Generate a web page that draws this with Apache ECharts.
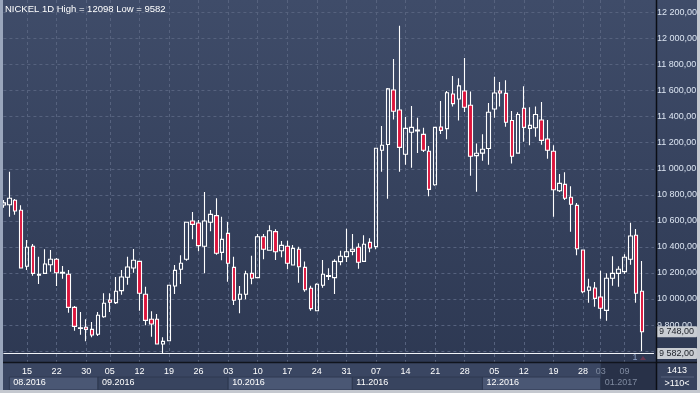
<!DOCTYPE html>
<html><head><meta charset="utf-8">
<script src="https://cdn.jsdelivr.net/npm/echarts@6/dist/echarts.min.js"></script>
<style>html,body{margin:0;padding:0;background:#2e3953;}#c{width:700px;height:393px;}</style>
</head><body><div id="c"></div>
<script>
const dates = [
'2016-08-09','2016-08-10','2016-08-11','2016-08-12','2016-08-15','2016-08-16','2016-08-17','2016-08-18','2016-08-19','2016-08-22','2016-08-23','2016-08-24','2016-08-25','2016-08-26','2016-08-30','2016-08-31',
'2016-09-01','2016-09-02','2016-09-05','2016-09-06','2016-09-07','2016-09-08','2016-09-09','2016-09-12','2016-09-13','2016-09-14','2016-09-15','2016-09-16','2016-09-19','2016-09-20','2016-09-21','2016-09-22','2016-09-23','2016-09-26','2016-09-27','2016-09-28','2016-09-29','2016-09-30',
'2016-10-03','2016-10-04','2016-10-05','2016-10-06','2016-10-07','2016-10-10','2016-10-11','2016-10-12','2016-10-13','2016-10-14','2016-10-17','2016-10-18','2016-10-19','2016-10-20','2016-10-21','2016-10-24','2016-10-25','2016-10-26','2016-10-27','2016-10-28','2016-10-31',
'2016-11-01','2016-11-02','2016-11-03','2016-11-04','2016-11-07','2016-11-08','2016-11-09','2016-11-10','2016-11-11','2016-11-14','2016-11-15','2016-11-16','2016-11-17','2016-11-18','2016-11-21','2016-11-22','2016-11-23','2016-11-24','2016-11-25','2016-11-28','2016-11-29','2016-11-30',
'2016-12-01','2016-12-02','2016-12-05','2016-12-06','2016-12-07','2016-12-08','2016-12-09','2016-12-12','2016-12-13','2016-12-14','2016-12-15','2016-12-16','2016-12-19','2016-12-20','2016-12-21','2016-12-22','2016-12-23','2016-12-28','2016-12-29','2016-12-30',
'2017-01-03','2017-01-04','2017-01-05','2017-01-06','2017-01-09','2017-01-10','2017-01-11','2017-01-12'];
const opens = [
10722,10724,10758,10681,10251,10405,10183,10197,10263,10305,10198,10190,9936,9774,9783,9767,
9729,9864,9992,9972,10064,10167,10238,10289,10036,9844,9844,9655,9680,10100,10228,10305,10599,10584,10405,10589,10640,10358,
10504,10243,9998,10036,10197,10164,10478,10374,10517,10371,10405,10261,10382,10243,10082,9910,10105,10174,10164,10287,10325,
10366,10397,10289,10435,10402,11142,11186,11605,11451,11111,11280,11290,11264,11134,10877,11320,11308,11574,11536,11597,11487,11101,
11120,11155,11459,11597,11579,11371,11120,11464,11310,11315,11374,11228,11134,10831,10880,10781,10719,10376,10067,10084,
10015,9913,10159,10197,10210,10305,10489,10059];
const closes = [
10738,10773,10676,10238,10397,10197,10190,10269,10305,10202,10205,9936,9790,9779,9767,9724,
9875,9967,9975,10059,10169,10246,10297,10044,9836,9808,9655,9675,10105,10220,10274,10589,10573,10410,10599,10650,10351,10458,
10274,9990,10036,10194,10159,10478,10382,10524,10363,10412,10274,10389,10248,10071,9926,10113,10190,10180,10289,10328,10363,
10382,10282,10420,10392,11157,11180,11613,11441,11164,11310,11318,11298,11142,10842,11318,11295,11584,11500,11636,11472,11096,11119,
11150,11434,11582,11582,11357,11096,11417,11318,11333,11417,11218,11142,10839,10888,10773,10727,10386,10056,10092,10005,
9929,10159,10197,10228,10320,10484,10044,9748];
const lows = [
10700,10632,10647,10235,10223,10179,10115,10195,10210,10100,10156,9895,9757,9726,9675,9706,
9716,9856,9900,9962,10033,10110,10202,9910,9798,9711,9650,9582,9678,10038,10115,10294,10458,10366,10197,10520,10340,10297,
10133,9954,9890,9998,10113,10160,10305,10372,10299,10320,10228,10259,10125,10056,9910,9908,10087,10146,10038,10259,10284,
10335,10233,10287,10358,10382,10977,10770,11378,10977,11031,11008,11120,11129,10788,10870,11267,11226,11477,11371,11436,10946,10823,
11062,11031,11392,11477,11323,11040,11118,11207,11180,11246,11184,11077,10632,10822,10760,10517,10335,10044,9972,9941,
9849,9833,10102,10094,10192,10263,9972,9601];
const highs = [
10760,10977,10768,10719,10453,10422,10325,10382,10376,10315,10253,10223,9946,9900,9844,9823,
9900,10044,10044,10169,10223,10325,10384,10294,10094,9906,9885,9706,10108,10261,10335,10592,10668,10607,10822,10683,10773,10632,
10591,10325,10100,10217,10333,10499,10499,10566,10535,10445,10448,10415,10402,10287,10102,10120,10299,10236,10305,10371,10540,
10499,10428,10489,10466,11160,11328,11620,11842,12098,11397,11482,11392,11315,11175,11322,11521,11597,11712,11694,11850,11594,11194,
11264,11504,11707,11666,11679,11443,11433,11633,11472,11477,11512,11374,11180,10960,10973,10865,10737,10378,10156,10131,
10217,10197,10328,10251,10343,10586,10537,10292];
const weekLabelDates = ['2016-08-15','2016-08-22','2016-08-30','2016-09-05','2016-09-12','2016-09-19','2016-09-26','2016-10-03','2016-10-10','2016-10-17','2016-10-24','2016-10-31','2016-11-07','2016-11-14','2016-11-21','2016-11-28','2016-12-05','2016-12-12','2016-12-19','2016-12-28','2017-01-03','2017-01-09'];
const monthNames = ['08.2016','09.2016','10.2016','11.2016','12.2016','01.2017'];
const monthStarts = ['2016-08-10','2016-09-01','2016-10-03','2016-11-01','2016-12-01','2017-01-03'];
const instrument = 'NICKEL 1D';
const footerTexts = ['1413', '>110<'];

const highVal = Math.max(...highs);
const lowVal = Math.min(...lows);
const lastClose = closes[closes.length - 1];
const weekSet = new Set(weekLabelDates);
const xData = dates.concat(['', '']);
const fmt = v => Math.round(v).toString().replace(/\B(?=(\d{3})+(?!\d))/g, ' ') + ',00';
const isJan = v => v.startsWith('2017');

const chart = echarts.init(document.getElementById('c'), null, {renderer: 'canvas'});
const FONT = 'Liberation Sans';
chart.setOption({
  animation: false,
  backgroundColor: 'transparent',
  textStyle: {fontFamily: FONT},
  title: {text: instrument + ' High = ' + highVal + ' Low = ' + lowVal, left: 5, top: 4, padding: 0,
    textStyle: {color: '#ffffff', fontSize: 9.5, fontWeight: 'normal', fontFamily: FONT}},
  grid: {left: 3.4, right: 43.6, top: 0, bottom: 31, containLabel: false},
  xAxis: {
    type: 'category', data: xData, boundaryGap: false,
    axisLine: {show: false}, axisTick: {show: false},
    axisLabel: {
      interval: (i, v) => weekSet.has(v), formatter: v => v.slice(8),
      color: v => isJan(v) ? '#7f8aa0' : '#ffffff', fontSize: 9, margin: 5, fontFamily: FONT
    },
    splitLine: {show: true, interval: (i, v) => weekSet.has(v), lineStyle: {color: '#56627e', type: [3, 3], width: 1}}
  },
  yAxis: {
    type: 'value', position: 'right', min: 9516.3, max: 12295.6, splitNumber: 14, scale: true,
    axisLine: {show: false}, axisTick: {show: false},
    axisLabel: {formatter: fmt, color: '#dce5f2', fontSize: 9, margin: 3, showMinLabel: false, showMaxLabel: false, fontFamily: FONT},
    splitLine: {show: true, showMinLine: false, showMaxLine: false, lineStyle: {color: '#56627e', type: [3, 3], width: 1}}
  },
  series: [{
    type: 'candlestick', name: 'NICKEL',
    data: dates.map((d, i) => [opens[i], closes[i], lows[i], highs[i]]),
    barWidth: 4,
    itemStyle: {color: 'rgba(0,0,0,0)', color0: '#dc143c', borderColor: '#ffffff', borderColor0: '#ffffff', borderWidth: 1.1},
    markLine: {
      silent: true, symbol: ['none', 'none'], animation: false,
      label: {show: true, position: 'end', distance: 2, formatter: p => fmt(p.value),
        backgroundColor: '#c9cdd3', color: '#1b1f27', fontSize: 9, padding: [1, 3, 1, 3], borderRadius: 1, fontFamily: FONT},
      data: [
        {yAxis: lowVal, lineStyle: {color: '#f2f4f8', width: 1.2, type: 'solid'}},
        {yAxis: lastClose, lineStyle: {color: 'rgba(0,0,0,0)', width: 0}}
      ]
    }
  }]
});

const px = d => chart.convertToPixel({xAxisIndex: 0}, d);
const py = v => chart.convertToPixel({yAxisIndex: 0}, v);
const g = [];
g.push({type: 'rect', z: -20, shape: {x: 0, y: 0, width: 700, height: 393},
  style: {fill: new echarts.graphic.LinearGradient(0, 0, 0, 1, [{offset: 0, color: '#3f4c69'}, {offset: 1, color: '#2c3751'}])}});
g.push({type: 'rect', z: -15, shape: {x: 0, y: 363, width: 700, height: 27}, style: {fill: '#3a4662'}});
const rightEdge = 656.4;
monthStarts.forEach((d, k) => {
  const x0 = px(d);
  const x1 = k + 1 < monthStarts.length ? px(monthStarts[k + 1]) : rightEdge;
  const jan = monthNames[k].endsWith('2017');
  if (jan) {
    g.push({type: 'rect', z: -12, shape: {x: x0, y: 363, width: x1 - x0, height: 27}, style: {fill: '#283148'}});
  } else {
    g.push({type: 'rect', z: -12, shape: {x: x0, y: 377, width: x1 - x0, height: 13},
      style: {fill: k % 2 === 0 ? '#4a5774' : '#38445f', stroke: '#2e3850', lineWidth: 1}});
  }
  g.push({type: 'text', z: -10, x: x0 + 4, y: 383, style: {text: monthNames[k], fill: jan ? '#7f8aa0' : '#ffffff',
    font: '9px "' + FONT + '"', textVerticalAlign: 'middle'}});
});
g.push({type: 'rect', z: -11, shape: {x: 657, y: 363, width: 40, height: 27}, style: {fill: '#37425d'}});
g.push({type: 'line', z: -10, shape: {x1: 661, y1: 377, x2: 694, y2: 377}, style: {stroke: '#56617c', lineWidth: 1}});
g.push({type: 'text', z: -10, x: 677, y: 371, style: {text: footerTexts[0], fill: '#ffffff', font: '9px "' + FONT + '"', textAlign: 'center', textVerticalAlign: 'middle'}});
g.push({type: 'text', z: -10, x: 677, y: 383.5, style: {text: footerTexts[1], fill: '#ffffff', font: '9px "' + FONT + '"', textAlign: 'center', textVerticalAlign: 'middle'}});
g.push({type: 'text', z: 50, x: 635, y: 357.5, style: {text: '1', fill: '#8fa2c4', font: '9px "' + FONT + '"', textAlign: 'center', textVerticalAlign: 'middle'}});
g.push({type: 'polygon', z: 50, shape: {points: [[640, 360], [643, 356], [646, 360]]}, style: {fill: '#6a3550'}});
[lastClose, lowVal].forEach(v => {
  const y = py(v);
  g.push({type: 'polygon', z: 60, shape: {points: [[656.5, y], [659.5, y - 5], [659.5, y + 5]]}, style: {fill: '#c9cdd3'}});
});
g.push({type: 'line', z: 80, shape: {x1: 0, y1: 362.5, x2: 700, y2: 362.5}, style: {stroke: '#10141d', lineWidth: 1.5}});
g.push({type: 'line', z: 80, shape: {x1: 656.5, y1: 0, x2: 656.5, y2: 391}, style: {stroke: '#0b0e15', lineWidth: 1.5}});
g.push({type: 'rect', z: 90, shape: {x: 0, y: 0, width: 3, height: 393}, style: {fill: '#9aa6bc'}});
g.push({type: 'rect', z: 90, shape: {x: 697, y: 0, width: 3, height: 393}, style: {fill: '#c4c8cf'}});
g.push({type: 'rect', z: 90, shape: {x: 0, y: 390, width: 700, height: 3}, style: {fill: '#c4c8cf'}});
chart.setOption({graphic: g});
</script></body></html>
